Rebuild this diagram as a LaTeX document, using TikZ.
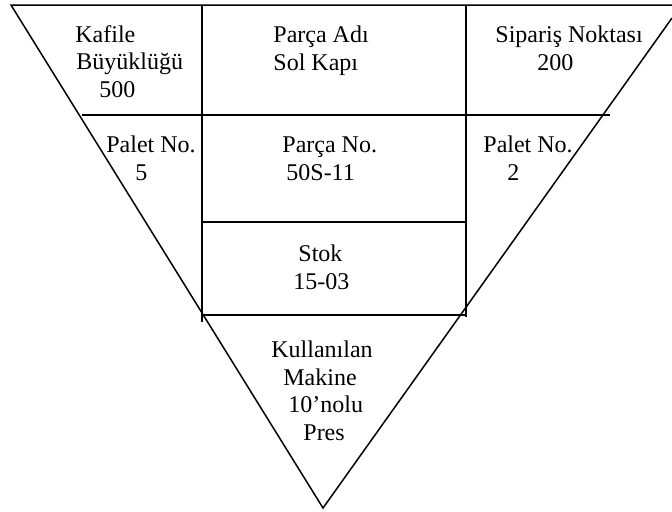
\documentclass[tikz,border=0pt]{standalone}
\usepackage{fontspec}
\setmainfont{Liberation Serif}
\tikzset{cell text/.style={anchor=base west,align=left,inner sep=0pt,font=\fontsize{12}{13.7}\selectfont},
	frame line/.style={draw,line width=0.75pt},
}

\begin{document}
\begin{tikzpicture}[x=0.5pt,y=-0.5pt]
				\useasboundingbox (0,0) rectangle (672,511);
				% funnel outline
				\coordinate (TL) at (11,5);
				\coordinate (TR) at (672,5);
				\coordinate (V) at (323,508);
				\coordinate (RE) at (672,18);
				% table grid
				\coordinate (ML) at (82,115);
				\coordinate (MR) at (610,115);
				\coordinate (C1) at (202,5);
				\coordinate (C1b) at (202,322);
				\coordinate (C2) at (466,5);
				\coordinate (C2b) at (466,317);
				\coordinate (R3L) at (202,222);
				\coordinate (R3R) at (466,222);
				\coordinate (R4L) at (202,315);
				\coordinate (R4R) at (467,315);
				
				\path[frame line] (TR) -- (TL) -- (V) -- (RE);
				\path[frame line] (ML) -- (MR);
				\path[frame line] (C1) -- (C1b);
				\path[frame line] (C2) -- (C2b);
				\path[frame line] (R3L) -- (R3R);
				\path[frame line] (R4L) -- (R4R);
				
				% base = last line of each text
				\node[cell text] (kafile) at (75,97) {Kafile\\\hspace*{0.5pt}Büyüklüğü\\\hspace*{12pt}500};
				\node[cell text] (parcaadi) at (273,70) {Parça Adı\\Sol Kapı};
				\node[cell text] (siparis) at (495,70) {Sipariş Noktası\\\hspace*{21pt}200};
				\node[cell text] (paletsol) at (106,180) {Palet No.\\\hspace*{14.5pt}5};
				\node[cell text] (parcano) at (282,180) {Parça No.\\\hspace*{2pt}50S-11};
				\node[cell text] (paletsag) at (483,180) {Palet No.\\\hspace*{12pt}2};
				\node[cell text] (stok) at (293,289) {\hspace*{2.5pt}Stok\\15-03};
				\node[cell text] (makine) at (271,440) {Kullanılan\\\hspace*{6pt}Makine\\\hspace*{8.5pt}10’nolu\\\hspace*{16pt}Pres};
				
			\end{tikzpicture}
\end{document}
